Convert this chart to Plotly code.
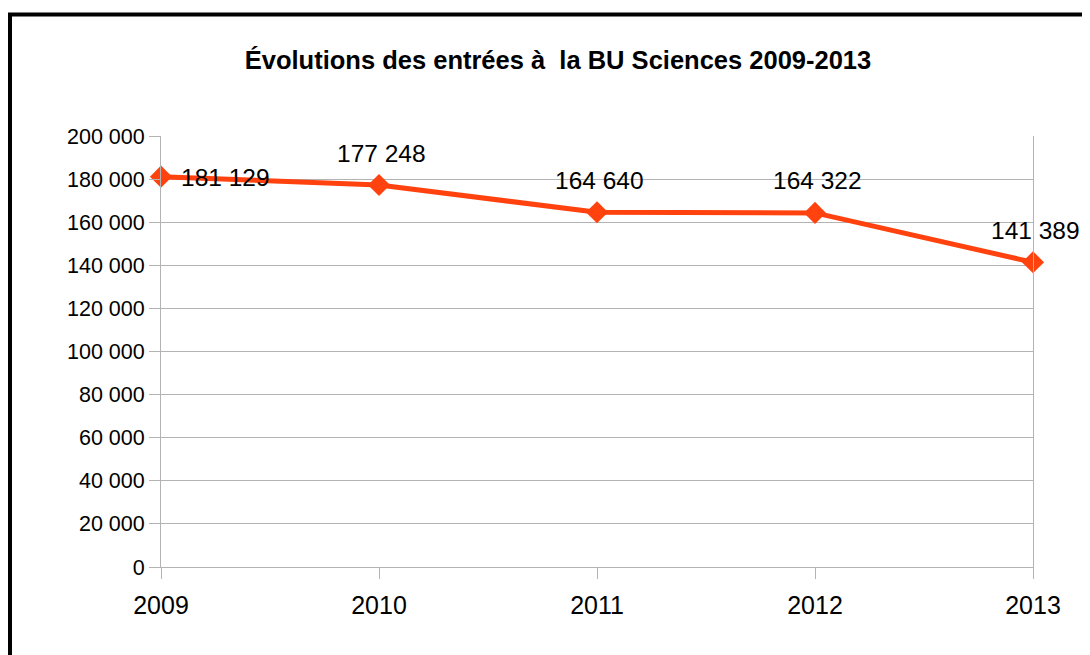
import plotly.graph_objects as go

years = [2009, 2010, 2011, 2012, 2013]
entries = [181129, 177248, 164640, 164322, 141389]
y_ticks = [0, 20000, 40000, 60000, 80000, 100000, 120000, 140000, 160000, 180000, 200000]
y_tick_labels = ["0", "20 000", "40 000", "60 000", "80 000", "100 000", "120 000",
                 "140 000", "160 000", "180 000", "200 000"]
title_text = "Évolutions des entrées à&nbsp; la BU Sciences 2009-2013"

def fmt(v):
    return f"{v:,}".replace(",", " ")

LINE = "#FF420E"
GRID = "#b3b3b3"
FONT = "Liberation Sans, Arial, sans-serif"

# page body has an 8px margin: figure coords = screen coords - 8
OFF = 8
W, H = 1090 - OFF, 655 - OFF
L, T = 161 - OFF, 136 - OFF
R = W - (1033 - OFF)
B = H - (567 - OFF)
pw, ph = W - L - R, H - T - B

def px_x(p):
    return (p - OFF - L) / pw

def px_y(p):
    return (H - B - (p - OFF)) / ph

fig = go.Figure()
fig.add_trace(go.Scatter(
    x=years, y=entries, mode="lines+markers",
    line=dict(color=LINE, width=5),
    marker=dict(symbol="diamond", size=17, color=LINE),
    cliponaxis=False, showlegend=False, hoverinfo="skip",
))

for i, (x, y) in enumerate(zip(years, entries)):
    if i == 0:
        fig.add_annotation(x=x, y=y, text=fmt(y), showarrow=False,
                           xanchor="left", yanchor="middle", xshift=18, yshift=-1,
                           font=dict(size=24.5, color="black", family=FONT))
    else:
        fig.add_annotation(x=x, y=y, text=fmt(y), showarrow=False,
                           xanchor="center", yanchor="middle", xshift=2, yshift=32,
                           font=dict(size=24.5, color="black", family=FONT))

fig.add_shape(type="rect", xref="paper", yref="paper",
              x0=px_x(10), x1=px_x(1110), y0=px_y(14.5), y1=px_y(690),
              line=dict(color="black", width=4), fillcolor="rgba(0,0,0,0)", layer="above")

fig.update_layout(
    width=W, height=H,
    margin=dict(l=L, r=R, t=T, b=B, pad=0),
    paper_bgcolor="white", plot_bgcolor="white",
    font=dict(family=FONT, color="black"),
    title=dict(text="<b>" + title_text + "</b>", x=px_x(558), xanchor="center",
               xref="paper", y=1 - (60 - OFF) / H, yanchor="middle",
               font=dict(size=25.5, color="black", family=FONT)),
)
fig.update_xaxes(
    range=[years[0], years[-1]], tickmode="array", tickvals=years,
    ticktext=[str(y) for y in years],
    showgrid=False, zeroline=False, showline=True, linecolor=GRID, linewidth=1,
    ticks="outside", ticklen=11, tickcolor=GRID, tickwidth=1, ticklabelstandoff=5,
    tickfont=dict(size=25, color="black", family=FONT), fixedrange=True,
)
fig.update_yaxes(
    range=[0, 200000], tickmode="array", tickvals=y_ticks, ticktext=y_tick_labels,
    showgrid=True, gridcolor=GRID, gridwidth=1, zeroline=False,
    showline=True, linecolor=GRID, linewidth=1, mirror=True,
    ticks="outside", ticklen=11, tickcolor=GRID, tickwidth=1,
    tickfont=dict(size=21.5, color="black", family=FONT), fixedrange=True,
)

fig.write_html("out.html")
